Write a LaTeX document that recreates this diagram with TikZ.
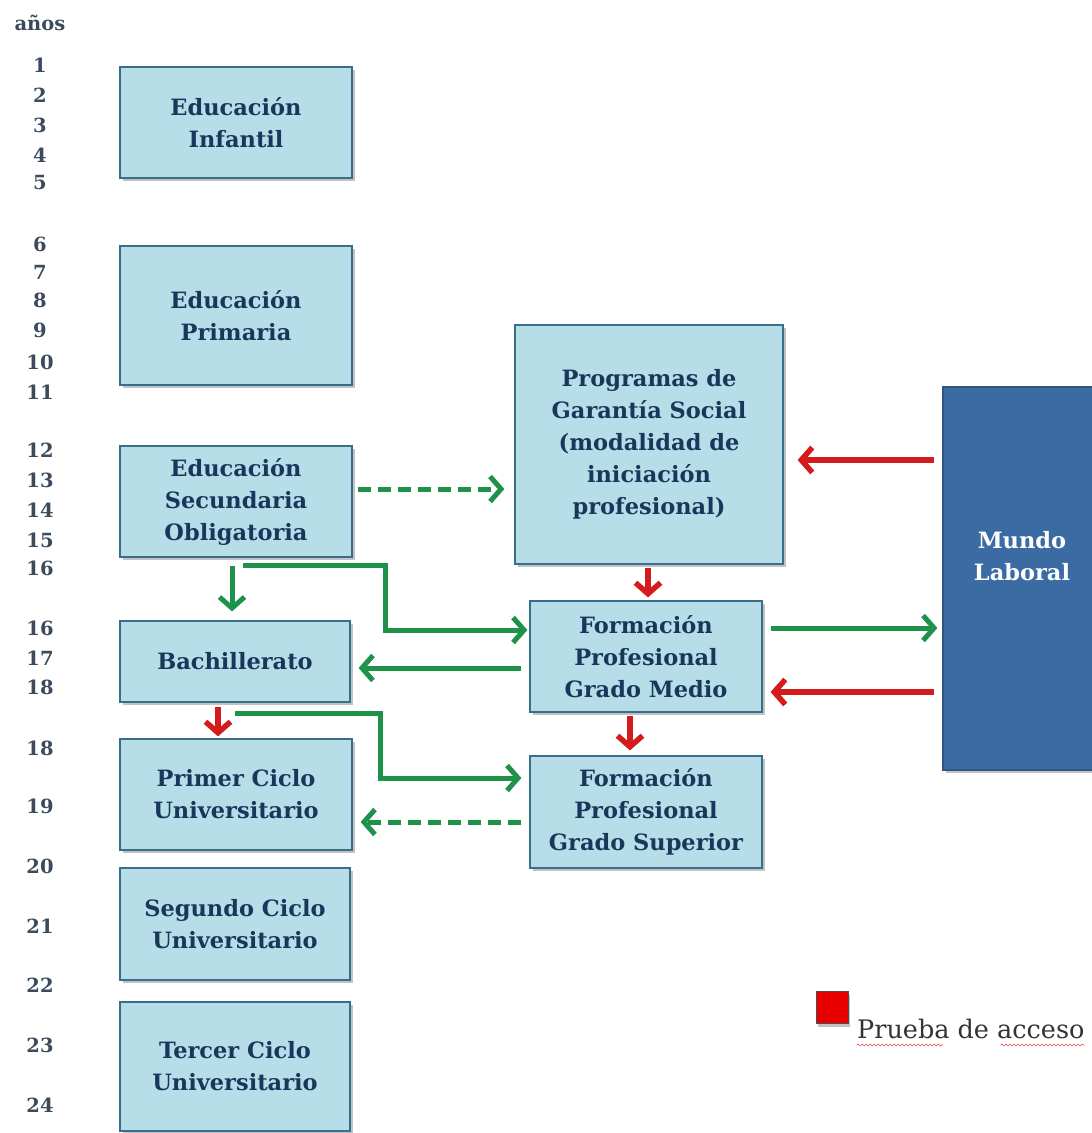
\documentclass[tikz,border=0pt]{standalone}
\usepackage{fontspec}
\setmainfont{DejaVu Serif}
\usetikzlibrary{arrows.meta,shadows,calc,decorations.pathmorphing}

\definecolor{boxfill}{RGB}{183,222,232}
\definecolor{boxedge}{RGB}{55,110,140}
\definecolor{boxtext}{RGB}{25,55,90}
\definecolor{agetext}{RGB}{60,75,92}
\definecolor{worldfill}{RGB}{58,108,163}
\definecolor{arrgreen}{RGB}{30,146,72}
\definecolor{arrred}{RGB}{212,28,28}
\definecolor{keyred}{RGB}{232,0,0}

\begin{document}
\begin{tikzpicture}[x=1pt,y=-1pt,
  stage/.style={draw=boxedge, line width=1.2pt, fill=boxfill, text=boxtext,
    font=\bfseries\fontsize{22.5}{32}\selectfont, align=center, inner sep=0pt,
    drop shadow={shadow xshift=2.5pt, shadow yshift=-3pt, opacity=0.4, fill=black!60}},
  age/.style={text=agetext, font=\bfseries\fontsize{19.5}{20}\selectfont},
  garrow/.style={draw=arrgreen, line width=5pt, line join=miter,
    -{Straight Barb[length=11pt,width=25pt]}},
  rarrow/.style={draw=arrred, line width=5.5pt,
    -{Straight Barb[length=11pt,width=25pt]}},
  dashline/.style={dash pattern=on 13pt off 7pt},
  wavy/.style={arrred!80, line width=0.6pt, decorate,
    decoration={snake, segment length=4pt, amplitude=1pt}},
]
\useasboundingbox (0,0) rectangle (1092,1133);

% age column
\node[age] (anos) at (40,23) {años};
\foreach \a/\yy [count=\i] in {1/65,2/95,3/125,4/155,5/183,
    6/244,7/272,8/300,9/330,10/362,11/392,
    12/450,13/480,14/510,15/540,16/568,
    16/628,17/658,18/687,
    18/748,19/806,20/866,21/926,22/985,23/1045,24/1105}
  \node[age] (n\i) at (40,\yy) {\a};

% stages of schooling
\node[stage, minimum width=232pt, minimum height=111pt] (inf) at (236,122.5) {Educación\\Infantil};
\node[stage, minimum width=232pt, minimum height=139pt] (pri) at (236,315.5) {Educación\\Primaria};
\node[stage, minimum width=232pt, minimum height=111pt] (eso) at (236,501.5) {Educación\\Secundaria\\Obligatoria};
\node[stage, minimum width=230pt, minimum height=81pt] (bach) at (235,661.5) {Bachillerato};
\node[stage, minimum width=232pt, minimum height=111pt] (pc) at (236,794.5) {Primer Ciclo\\Universitario};
\node[stage, minimum width=230pt, minimum height=112pt] (sc) at (235,924) {Segundo Ciclo\\Universitario};
\node[stage, minimum width=230pt, minimum height=129pt] (tc) at (235,1066.5) {Tercer Ciclo\\Universitario};

\node[stage, minimum width=268pt, minimum height=239pt] (pgs) at (649,444.5)
  {Programas de\\Garantía Social\\(modalidad de\\iniciación\\profesional)};
\node[stage, minimum width=232pt, minimum height=111pt] (fpm) at (646,656.5) {Formación\\Profesional\\Grado Medio};
\node[stage, minimum width=232pt, minimum height=112pt] (fps) at (646,812) {Formación\\Profesional\\Grado Superior};

% world of work
\node[stage, fill=worldfill, draw=worldfill!80!black, minimum width=160pt, minimum height=383pt]
  (mundo) at (1023,578.5) {};
\node[font=\bfseries\fontsize{22.5}{32}\selectfont, text=white, align=center] (mundotxt) at (1022,556) {Mundo\\Laboral};

% connectors
\draw[garrow, dashline, shorten <=5pt, shorten >=10pt] (eso.east |- 0,489) -- (pgs.west |- 0,489);
\draw[garrow, shorten <=8pt, shorten >=9pt] (eso.south -| 232,0) -- (bach.north -| 232,0);
\draw[garrow] ($(eso.south)+(7,8)$) -- ++(142,0) |- ($(fpm.west)+(-2,-26.5)$);
\draw[garrow, shorten <=8pt, shorten >=8pt] (fpm.west |- 0,668) -- (bach.east |- 0,668);
\draw[rarrow, shorten <=4pt, shorten >=2pt] (bach.south -| 218,0) -- (pc.north -| 218,0);
\draw[garrow] ($(bach.south)+(0,11)$) -- ++(145,0) |- ($(fps.west)+(-8,-34)$);
\draw[garrow, dashline, shorten <=8pt, shorten >=8pt] (fps.west |- 0,822) -- (pc.east |- 0,822);
\draw[rarrow, shorten <=3pt, shorten >=3pt] (pgs.south -| 648,0) -- (fpm.north -| 648,0);
\draw[rarrow, shorten <=3pt, shorten >=5pt] (fpm.south -| 630,0) -- (fps.north -| 630,0);
\draw[rarrow, shorten <=8pt, shorten >=14pt] (mundo.west |- 0,460) -- (pgs.east |- 0,460);
\draw[rarrow, shorten <=8pt, shorten >=8pt] (mundo.west |- 0,692) -- (fpm.east |- 0,692);
\draw[garrow, shorten <=8pt, shorten >=5pt] (fpm.east |- 0,628) -- (mundo.west |- 0,628);

% key
\node[draw=black!70, line width=1pt, fill=keyred, minimum size=32pt, inner sep=0pt,
  drop shadow={shadow xshift=2pt, shadow yshift=-3pt, opacity=0.4, fill=black!60}]
  (key) at (832,1007.5) {};
\node[anchor=base west, inner sep=0pt, text=black!80, font=\fontsize{25.5}{30}\selectfont]
  (keytxt) at (857,1038) {Prueba de acceso};
\draw[wavy] ($(keytxt.base west)+(0,7)$) -- ++(86,0);
\draw[wavy] ($(keytxt.base east)+(-84,7)$) -- ++(84,0);
\end{tikzpicture}
\end{document}
